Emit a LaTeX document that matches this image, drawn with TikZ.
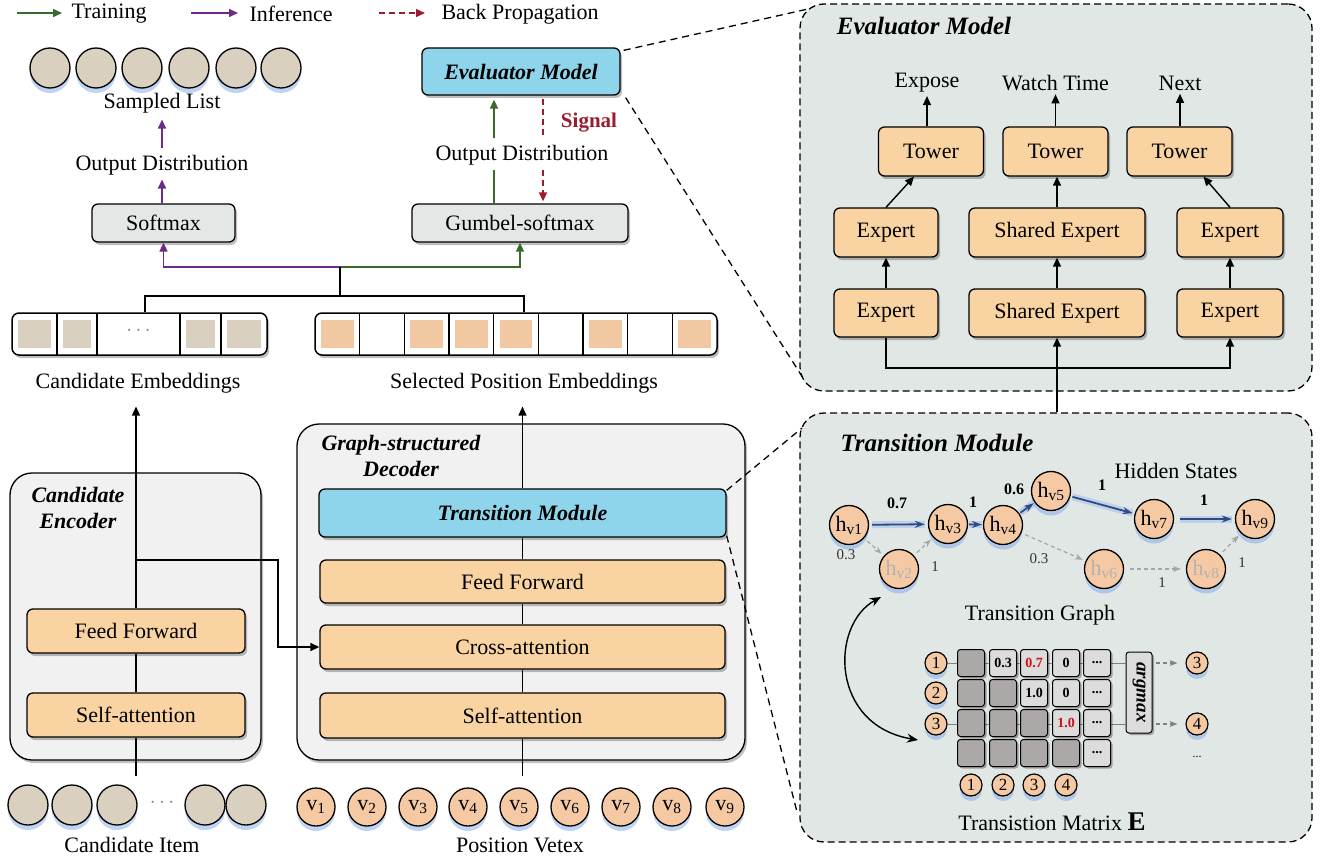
\documentclass[tikz,border=0pt]{standalone}
\usepackage{fontspec}
\setmainfont{Liberation Serif}
\usetikzlibrary{arrows.meta,shadows,calc}
\definecolor{peach}{HTML}{F9D4A2}
\definecolor{peachc}{HTML}{F4C9A3}
\definecolor{peachsq}{HTML}{F1C8A2}
\definecolor{beige}{HTML}{D9D0BF}
\definecolor{cyanbox}{HTML}{8ED5EC}
\definecolor{softgray}{HTML}{E3E8E6}
\definecolor{panelgray}{HTML}{F1F1F1}
\definecolor{evalbg}{HTML}{E1E7E5}
\definecolor{trgreen}{HTML}{3A6A2A}
\definecolor{infpurple}{HTML}{6E2A8A}
\definecolor{bpred}{HTML}{9A1C2E}
\definecolor{edgeblue}{HTML}{2D4A86}
\definecolor{glow}{HTML}{7FA8E8}
\definecolor{darkcell}{HTML}{ABA8A7}
\definecolor{lightcell}{HTML}{DCDCDC}
\definecolor{redval}{HTML}{D0101A}
\newcommand\FS[2]{\fontsize{#1}{#2}\selectfont}
\begin{document}
\begin{tikzpicture}[x=1pt,y=-1pt,
  every node/.style={font=\FS{22}{26}},
  shad/.style={drop shadow={shadow xshift=2pt,shadow yshift=-3pt,fill=black,opacity=0.25}},
  glowc/.style={drop shadow={shadow xshift=0pt,shadow yshift=-5pt,fill=glow,opacity=0.5}},
  pbox/.style={draw,line width=1.3pt,rounded corners=6pt,fill=peach,inner sep=0pt,shad},
  gbox/.style={pbox,fill=softgray},
  cbox/.style={pbox,fill=cyanbox,font=\FS{22}{26}\bfseries\itshape},
  panel/.style={draw,line width=1.3pt,rounded corners=22pt,fill=panelgray,inner sep=0pt,shad},
  dpanel/.style={draw,line width=1.3pt,dash pattern=on 7pt off 4pt,rounded corners=24pt,fill=evalbg,inner sep=0pt},
  ebar/.style={draw,line width=1.5pt,rounded corners=7pt,fill=white,inner sep=0pt,shad},
  bcirc/.style={circle,draw,line width=1.3pt,fill=beige,minimum size=40pt,inner sep=0pt,glowc},
  vcirc/.style={circle,draw,line width=1.3pt,fill=peachc,minimum size=38pt,inner sep=0pt,glowc},
  hcirc/.style={vcirc,minimum size=39pt},
  scirc/.style={circle,draw,line width=1.2pt,fill=peachc,minimum size=22pt,inner sep=0pt,glowc,font=\FS{17}{17}},
  tip/.style={-{Triangle[length=9pt,width=8pt]}},
  blk/.style={draw=black,line width=1.4pt},
  trn/.style={draw=trgreen,line width=1.6pt},
  inf/.style={draw=infpurple,line width=1.6pt},
  bpl/.style={draw=bpred,line width=1.4pt,dash pattern=on 6pt off 4pt},
  zoomline/.style={draw=black,line width=1.3pt,dash pattern=on 7pt off 5pt},
  ttl/.style={font=\FS{22}{26}\bfseries\itshape,align=center},
  ptl/.style={font=\FS{25}{28}\bfseries\itshape},
  bedge/.style={draw=edgeblue,line width=1.8pt,-{Stealth[length=10pt,width=7pt]},preaction={draw=glow,line width=7pt,opacity=0.35,-}},
  gedge/.style={draw=gray!70,line width=1.2pt,dash pattern=on 4pt off 3pt,-{Stealth[length=8pt,width=6pt]}},
  elab/.style={font=\FS{16}{16}\bfseries},
  glab/.style={font=\FS{15}{15},text=black!80},
  cellD/.style={draw,line width=1pt,rounded corners=3pt,fill=darkcell,minimum size=27pt,inner sep=0pt,drop shadow={shadow xshift=2pt,shadow yshift=-2pt,fill=black,opacity=0.3}},
  cellL/.style={cellD,fill=lightcell,font=\FS{14}{14}\bfseries},
]
\useasboundingbox (0,0) rectangle (1322,861);
% ---------- legend
\coordinate (la1) at (17,13); \coordinate (lb1) at (62,13);
\draw[trn,tip] (la1) -- (lb1);
\node[anchor=west] (lt1) at (68,14) {Training};
\coordinate (la2) at (191,13); \coordinate (lb2) at (238,13);
\draw[inf,tip] (la2) -- (lb2);
\node[anchor=west] (lt2) at (246,14) {Inference};
\coordinate (la3) at (379,13); \coordinate (lb3) at (425,13);
\draw[bpl,tip] (la3) -- (lb3);
\node[anchor=west] (lt3) at (438,14) {Back Propagation};
% ---------- sampled list column
\foreach \i/\x in {1/50,2/96,3/142,4/189,5/236,6/281} \node[bcirc] (s\i) at (\x,68) {};
\node (slist) at (162,103) {Sampled List};
\node (od1) at (162,165) {Output Distribution};
\draw[inf,tip,shorten <=3pt,shorten >=3pt] (od1.north) -- (slist.south);
\node[gbox,minimum width=143,minimum height=38] (smax) at (163.5,223) {Softmax};
\draw[inf,tip,shorten >=1pt] (smax.north -| od1.south) -- (od1.south);
% ---------- evaluator column
\node[cbox,minimum width=198,minimum height=47] (evb) at (521,71.5) {Evaluator Model};
\node[gbox,minimum width=216,minimum height=38] (gum) at (520,223) {Gumbel-softmax};
\node (od2) at (522,155) {Output Distribution};
\draw[trn,shorten >=1pt] ([xshift=-26pt]gum.north) -- ([xshift=-28pt]od2.south);
\draw[trn,tip,shorten <=3pt,shorten >=4pt] ([xshift=-28pt]od2.north) -- ([xshift=-27pt]evb.south);
\draw[bpl,shorten <=3pt,shorten >=3pt] ([xshift=22pt]evb.south) -- ([xshift=21pt]od2.north);
\draw[bpl,tip,shorten <=1pt,shorten >=2pt] ([xshift=21pt]od2.south) -- ([xshift=23pt]gum.north);
\node[font=\FS{21}{24}\bfseries,text=bpred] (sig) at (589,123) {Signal};
% ---------- embeddings
\node[ebar,minimum width=255,minimum height=42] (cemb) at (139.5,334) {};
\fill[beige] (18,320) rectangle (51,348);
\fill[beige] (63,320) rectangle (91,348);
\fill[beige] (186,320) rectangle (215,348);
\fill[beige] (227,320) rectangle (261,348);
\foreach \xx in {57,97,180,221} \draw[line width=1.5pt] (\xx,313) -- (\xx,355);
\node[text=gray] (cdots) at (138.5,331) {$\cdots$};
\node[ebar,minimum width=402,minimum height=42] (semb) at (516,334) {};
\foreach \k in {0,2,3,4,6,8} \fill[peachsq] ({315+44.67*\k+6},320) rectangle ({315+44.67*(\k+1)-6},348);
\foreach \k in {1,...,8} \draw[line width=1.5pt] ({315+44.67*\k},313) -- ({315+44.67*\k},355);
\node (cel) at (138,383) {Candidate Embeddings};
\node (sel) at (524,383) {Selected Position Embeddings};
% fork
\coordinate (fk) at (340,267); \coordinate (fk2) at (340,296);
\draw[inf,tip] (fk) -| (smax.south);
\draw[trn,tip] (fk) -| (gum.south);
\draw[blk] (fk) -- (fk2);
\draw[blk] ([xshift=5.5pt]cemb.north) |- (fk2) -| ([xshift=8pt]semb.north);
% ---------- candidate encoder
\node[panel,minimum width=251,minimum height=287] (encp) at (135.5,616.5) {};
\node[ttl] (enct) at (78,508) {Candidate\\Encoder};
\node[pbox,minimum width=218,minimum height=44] (eff) at (136,631) {Feed Forward};
\node[pbox,minimum width=218,minimum height=44] (esa) at (136,715) {Self-attention};
% ---------- decoder
\node[panel,minimum width=448,minimum height=336] (decp) at (521,592) {};
\node[ttl] (dect) at (401,456) {Graph-structured\\Decoder};
\node[cbox,minimum width=407,minimum height=48] (dtm) at (522.5,513) {Transition Module};
\node[pbox,minimum width=405,minimum height=43] (dff) at (522.5,581.5) {Feed Forward};
\node[pbox,minimum width=405,minimum height=44] (dca) at (522.5,647) {Cross-attention};
\node[pbox,minimum width=405,minimum height=45] (dsa) at (522.5,715.5) {Self-attention};
% encoder connectors
\coordinate (ein) at (136,776);
\draw[blk] (ein) -- (esa.south);
\draw[blk] (esa.north) -- (eff.south);
\draw[blk,tip,shorten >=10pt] (eff.north) -- (eff.north |- cel.south);
\coordinate (br1) at (136,560); \coordinate (br2) at (278,560);
\draw[blk,tip] (br1) -- (br2) |- (dca.west);
% decoder connectors
\coordinate (din) at (522.5,776);
\draw[blk] (din) -- (dsa.south);
\draw[blk] (dsa.north) -- (dca.south);
\draw[blk] (dca.north) -- (dff.south);
\draw[blk] (dff.north) -- (dtm.south);
\draw[blk,tip,shorten >=10pt] (dtm.north) -- (dtm.north |- sel.south);
% ---------- inputs
\foreach \i/\x in {1/28,2/72,3/117,4/205,5/246} \node[bcirc] (ci\i) at (\x,805) {};
\node[text=gray] (cidots) at (162,803) {$\cdots$};
\node (citem) at (132,845) {Candidate Item};
\foreach \i/\x in {1/316,2/367,3/418,4/468,5/519,6/570,7/621,8/672,9/725} \node[vcirc] (pv\i) at (\x,807) {v\textsubscript{\i}};
\node (pvt) at (520,845) {Position Vetex};
% ---------- evaluator panel
\node[dpanel,minimum width=512,minimum height=387] (evp) at (1056,197.5) {};
\node[ptl] (evt) at (924,26) {Evaluator Model};
\node[pbox,minimum width=105,minimum height=49] (tw1) at (931,151.5) {Tower};
\node[pbox,minimum width=105,minimum height=49] (tw2) at (1055.5,151.5) {Tower};
\node[pbox,minimum width=105,minimum height=49] (tw3) at (1179.5,151.5) {Tower};
\node[pbox,minimum width=104,minimum height=49] (ea1) at (886,232.5) {Expert};
\node[pbox,minimum width=176,minimum height=49] (sa1) at (1057,232.5) {Shared Expert};
\node[pbox,minimum width=106,minimum height=49] (eb1) at (1230,232.5) {Expert};
\node[pbox,minimum width=104,minimum height=48] (ea2) at (886,313) {Expert};
\node[pbox,minimum width=176,minimum height=48] (sa2) at (1057,313) {Shared Expert};
\node[pbox,minimum width=106,minimum height=48] (eb2) at (1230,313) {Expert};
\node (o1) at (927,83) {Expose};
\node (o2) at (1055.5,83) {Watch Time};
\node (o3) at (1180,83) {Next};
\draw[blk,tip] (tw1.north -| o1.south) -- (o1.south);
\draw[blk,tip] (tw2.north) -- (o2.south);
\draw[blk,tip] (tw3.north -| o3.south) -- (o3.south);
\draw[blk,tip] (ea1.north) -- ([xshift=-17pt]tw1.south);
\draw[blk,tip] (sa1.north) -- (sa1.north |- tw2.south);
\draw[blk,tip] (eb1.north) -- ([xshift=24pt]tw3.south);
\draw[blk,tip] (ea2.north) -- (ea1.south);
\draw[blk,tip] (sa2.north) -- (sa1.south);
\draw[blk,tip] (eb2.north) -- (eb1.south);
\coordinate (evj) at (1057,368);
\draw[blk,tip] (ea2.south) |- (evj) -| (eb2.south);
% ---------- transition panel
\node[dpanel,minimum width=512,minimum height=429] (tpn) at (1056,627.5) {};
\draw[blk,tip] (sa2.south |- tpn.north) -- (sa2.south);
\node[ptl] (tpt) at (937,443) {Transition Module};
% zoom lines
\coordinate (z1) at (808,9); \coordinate (z2) at (803,378);
\coordinate (z3) at (802,428); \coordinate (z4) at (797,812);
\draw[zoomline] ([xshift=3pt,yshift=-3pt]evb.north east) -- (z1);
\draw[zoomline] ([xshift=5pt,yshift=-2pt]evb.south east) -- (z2);
\draw[zoomline] ([yshift=-2pt]dtm.north east) -- (z3);
\draw[zoomline] ([yshift=2pt]dtm.south east) -- (z4);
% hidden states graph
\node[hcirc] (h1) at (849,525) {h\textsubscript{v1}};
\node[hcirc] (h3) at (948,524) {h\textsubscript{v3}};
\node[hcirc] (h4) at (1003,525) {h\textsubscript{v4}};
\node[hcirc] (h5) at (1051,491) {h\textsubscript{v5}};
\node[hcirc] (h7) at (1154,519) {h\textsubscript{v7}};
\node[hcirc] (h9) at (1255,519) {h\textsubscript{v9}};
\node[hcirc,text=gray!60] (h2) at (899,569) {h\textsubscript{v2}};
\node[hcirc,text=gray!60] (h6) at (1104,569) {h\textsubscript{v6}};
\node[hcirc,text=gray!60] (h8) at (1206,569) {h\textsubscript{v8}};
\draw[bedge,shorten <=3pt,shorten >=3pt] (h1) -- (h3);
\draw[bedge,shorten <=1pt,shorten >=1pt] (h3) -- (h4);
\draw[bedge,shorten <=1pt,shorten >=1pt] (h4) -- (h5);
\draw[bedge,shorten <=2pt,shorten >=2pt] (h5) -- (h7);
\draw[bedge,shorten <=6pt,shorten >=3pt] (h7) -- (h9);
\draw[gedge,shorten <=4pt,shorten >=3pt] (h1) -- (h2);
\draw[gedge,shorten <=4pt,shorten >=3pt] (h2) -- (h3);
\draw[gedge,shorten <=4pt,shorten >=3pt] (h4) -- (h6);
\draw[gedge,shorten <=6pt,shorten >=5pt] (h6) -- (h8);
\draw[gedge,shorten <=4pt,shorten >=3pt] (h8) -- (h9);
\node[elab] (l13) at (897,503) {0.7};
\node[elab] (l34) at (973,502) {1};
\node[elab] (l45) at (1014,489) {0.6};
\node[elab] (l57) at (1102,485) {1};
\node[elab] (l79) at (1204,500) {1};
\node[glab] (l12) at (846,555) {0.3};
\node[glab] (l23) at (935,567) {1};
\node[glab] (l46) at (1039,559) {0.3};
\node[glab] (l68) at (1162,583) {1};
\node[glab] (l89) at (1242,563) {1};
\node (hst) at (1176,471) {Hidden States};
\node (tgr) at (1040,615) {Transition Graph};
% curved arrow
\coordinate (ca1) at (881,597); \coordinate (ca2) at (918,740);
\draw[line width=1.4pt,{Stealth[length=11pt,width=9pt]}-{Stealth[length=11pt,width=9pt]}] (ca1) .. controls (830,625) and (830,725) .. (ca2);
% transition matrix
\node[scirc] (r1) at (936,663) {1};
\node[scirc] (r2) at (936,693) {2};
\node[scirc] (r3) at (936,724) {3};
\node[cellL,minimum width=26,minimum height=81] (amx) at (1139,692.5) {};
\draw[draw=gray,line width=0.8pt] (r1.east) -- (amx.west |- r1.east);
\draw[draw=gray,line width=0.8pt] (r3.east) -- (amx.west |- r3.east);
\node[cellD] (m11) at (971,663) {};
\node[cellL] (m12) at (1003,663) {0.3};
\node[cellL,text=redval] (m13) at (1034,663) {0.7};
\node[cellL] (m14) at (1066,663) {0};
\node[cellL] (m15) at (1097,663) {...};
\node[cellD] (m21) at (971,693) {};
\node[cellD] (m22) at (1003,693) {};
\node[cellL] (m23) at (1034,693) {1.0};
\node[cellL] (m24) at (1066,693) {0};
\node[cellL] (m25) at (1097,693) {...};
\node[cellD] (m31) at (971,723) {};
\node[cellD] (m32) at (1003,723) {};
\node[cellD] (m33) at (1034,723) {};
\node[cellL,text=redval] (m34) at (1066,723) {1.0};
\node[cellL] (m35) at (1097,723) {...};
\node[cellD] (m41) at (971,753) {};
\node[cellD] (m42) at (1003,753) {};
\node[cellD] (m43) at (1034,753) {};
\node[cellD] (m44) at (1066,753) {};
\node[cellL] (m45) at (1097,753) {...};
\node[rotate=-90,font=\FS{19}{19}\bfseries\itshape] (amxt) at (amx.center) {argmax};
\node[scirc] (q3) at (1197,663) {3};
\node[scirc] (q4) at (1197,724) {4};
\draw[gedge,draw=gray,shorten <=3pt,shorten >=8pt] (amx.east |- q3.west) -- (q3.west);
\draw[gedge,draw=gray,shorten <=3pt,shorten >=8pt] (amx.east |- q4.west) -- (q4.west);
\node[font=\FS{12}{12}] (qd) at (1197,757) {...};
\node[scirc] (c1) at (971,785) {1};
\node[scirc] (c2) at (1003,785) {2};
\node[scirc] (c3) at (1034,785) {3};
\node[scirc] (c4) at (1066,785) {4};
\node (tmx) at (1052,822) {Transistion Matrix {\FS{27}{27}\bfseries E}};
\end{tikzpicture}
\end{document}
